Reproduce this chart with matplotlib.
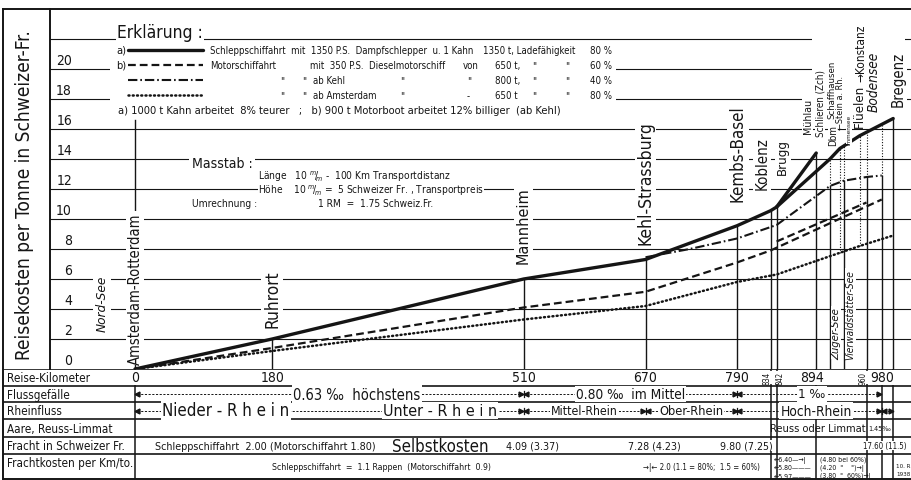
import matplotlib
matplotlib.use("Agg")
import numpy as np
import matplotlib.pyplot as plt
from matplotlib import font_manager as fm
from matplotlib.patches import Rectangle

# the drawing uses condensed lettering: take a narrow sans if one is installed
fonts = fm.fontManager.ttflist
narrow = {'condensed', 'semi-condensed', 'extra-condensed', 'ultra-condensed'}
family, stretch = 'Liberation Sans', 'normal'
for fam in ['Liberation Sans Narrow', 'DejaVu Sans', 'Noto Sans', 'Roboto', 'Open Sans', 'Lato',
            'Noto Sans Condensed', 'Roboto Condensed', 'Open Sans Condensed', 'Noto Sans SemiCondensed']:
    hits = [f for f in fonts if f.name == fam and f.style == 'normal']
    if not hits:
        continue
    if fam.endswith(('Narrow', 'Condensed')):
        family, stretch = fam, 'normal'
        break
    cond = [f for f in hits if str(f.stretch) in narrow]
    if cond:
        family, stretch = fam, str(cond[0].stretch)
        break
plt.rcParams['font.family'] = [family, 'DejaVu Sans']
plt.rcParams['font.stretch'] = stretch
plt.rcParams['mathtext.fontset'] = 'dejavusans'

INK = '#151515'
W, H, DPI = 912, 481, 100

# the drawing: km 0 at pixel column 135, about 0.762 px per km; 0 Fr. at row 370, 15 px per Fr.
PX0, PXKM = 135.0, 0.762
PY0, PYFR = 370.0, 15.0

# ---- data: Reisekosten per Tonne (Schweizer Fr.) against Reise-Kilometer ----
schlepp_km = [0, 180, 510, 670, 790, 834, 842]
schlepp_fr = [0, 2.0, 6.0, 7.3, 9.55, 10.55, 10.8]
schlepp_muehlau_km = [842, 894]
schlepp_muehlau_fr = [10.8, 14.4]
schlepp_bodensee_km = [842, 912, 925, 951, 995]
schlepp_bodensee_fr = [10.8, 14.0, 14.7, 15.55, 16.7]

motor_km = [0, 180, 510, 670, 790, 834, 980]
motor_fr = [0, 1.4, 4.1, 5.15, 7.1, 7.9, 11.3]
motor_zweig_km = [842, 960]
motor_zweig_fr = [8.5, 11.1]

kehl_km = [670, 728, 790, 842, 912, 930, 960, 980]
kehl_fr = [7.45, 8.0, 8.7, 9.6, 12.2, 12.55, 12.8, 12.9]

amsterdam_km = [0, 180, 510, 670, 790, 842, 951, 995]
amsterdam_fr = [0, 1.2, 3.3, 4.2, 5.8, 6.3, 8.2, 8.9]

orte_km = [0, 180, 510, 670, 790, 834, 842]
orte = ['Amsterdam-Rotterdam', 'Ruhrort', 'Mannheim', 'Kehl-Strassburg',
        'Kembs-Basel', 'Koblenz', 'Brugg']
ziel_kehl_km = [912, 930, 960, 980]
see_km = [925, 951]

km_labels = ['0', '180', '510', '670', '790', '894', '980']
km_label_pos = [0, 180, 510, 670, 790, 888, 980]
km_small = ['834', '842', '960']
km_small_pos = [829, 847, 955]

fracht_km = [510, 670, 790, 980]
fracht_schlepp = ['4.09', '7.28', '9.80', '17.60']
fracht_motor = ['3.37', '4.23', '7.25', '11.5']

yticks = list(range(0, 22, 2))


def km(px):
    return (px - PX0) / PXKM


def fr(py):
    return (PY0 - py) / PYFR


def box(l, t, r, b):
    return [l / W, 1 - b / H, (r - l) / W, (b - t) / H]


fits = []


def fit(t, px, along='w', group=None):
    # scale the text later so that it covers px pixels like in the drawing
    fits.append((t, px, along, group if group is not None else []))
    return t


fig = plt.figure(figsize=(W / DPI, H / DPI), dpi=DPI)
fig.patch.set_facecolor('white')

frame = fig.add_axes(box(3, 10, 912, 480))
frame.set_xticks([])
frame.set_yticks([])
frame.spines['right'].set_visible(False)
for s in frame.spines.values():
    s.set_linewidth(1.4)
    s.set_color(INK)

fit(fig.text(25 / W, 1 - 195 / H, 'Reisekosten per Tonne in Schweizer-Fr.', rotation=90,
             ha='center', va='center', fontsize=13, color=INK), 330, 'h')

# ---- chart ----
ax = fig.add_axes(box(50, 10, 912, 370))
ax.set_xlim(km(50), km(912))
ax.set_ylim(0, 24)
ax.patch.set_alpha(0)
ax.set_xticks([])
ax.set_yticks([])
for side in ['top', 'right', 'bottom']:
    ax.spines[side].set_visible(False)
ax.spines['left'].set_linewidth(1.4)
ax.spines['left'].set_color(INK)

for v in range(2, 24, 2):
    ax.axhline(v, color=INK, lw=0.8, zorder=1)
for v in yticks:
    ax.text(km(72), v + 0.15, str(v), ha='right', va='bottom', fontsize=10, color=INK, zorder=5)

# blank areas of the drawing (legend, place names at the top right)
ax.add_patch(Rectangle((km(110), fr(104)), km(616) - km(110), fr(45) - fr(104),
                       fc='white', ec='none', zorder=2))
ax.add_patch(Rectangle((km(812), fr(110)), km(905) - km(812), fr(36) - fr(110),
                       fc='white', ec='none', zorder=2))

# station verticals
tops = np.interp(orte_km, schlepp_km, schlepp_fr)
tops[0] = 16.6
for k, t in zip(orte_km, tops):
    ax.plot([k, k], [0, t], color=INK, lw=1.0, zorder=3)
ax.plot([894, 894], [0, schlepp_muehlau_fr[-1]], color=INK, lw=1.0, zorder=3)
for k in ziel_kehl_km:
    t = np.interp(k, kehl_km, kehl_fr)
    ax.plot([k, k], [0, t], color=INK, lw=1.0, zorder=3)
    ax.plot([k, k], [t, np.interp(k, schlepp_bodensee_km, schlepp_bodensee_fr)],
            color=INK, lw=0.8, ls=(0, (1, 1.5)), zorder=3)
for k in see_km:
    ax.plot([k, k], [np.interp(k, amsterdam_km, amsterdam_fr),
                     np.interp(k, schlepp_bodensee_km, schlepp_bodensee_fr)],
            color=INK, lw=0.8, ls=(0, (1, 1.5)), zorder=3)
ax.plot([995, 995], [0, schlepp_bodensee_fr[-1]], color=INK, lw=1.0, zorder=3)

# cost lines
solid = dict(color=INK, lw=2.4, solid_capstyle='round', solid_joinstyle='round', zorder=4)
dashed = dict(color=INK, lw=1.6, ls=(0, (3.5, 1.8)), zorder=4)
dashdot = dict(color=INK, lw=1.5, ls=(0, (4.5, 1.4, 0.8, 1.4)), zorder=4)
dotted = dict(color=INK, lw=1.8, ls=(0, (0.4, 1.3)), dash_capstyle='round', zorder=4)

ax.plot(schlepp_km, schlepp_fr, **solid)
ax.plot(schlepp_muehlau_km, schlepp_muehlau_fr, **solid)
ax.plot(schlepp_bodensee_km, schlepp_bodensee_fr, **solid)
ax.plot(motor_km, motor_fr, **dashed)
ax.plot(motor_zweig_km, motor_zweig_fr, **dashed)
ax.plot(kehl_km, kehl_fr, **dashdot)
ax.plot(amsterdam_km, amsterdam_fr, **dotted)

# legend (Erklärung)
wbox = dict(fc='white', ec='none', pad=1.0)
fit(ax.text(km(117), fr(33), 'Erklärung :', fontsize=13, va='center', ha='left', color=INK,
            bbox=wbox, zorder=5), 86)
rows = [fr(51), fr(66), fr(81), fr(96)]
for y, st in zip(rows, [solid, dashed, dashdot, dotted]):
    ax.plot([km(128), km(203)], [y, y], **{**st, 'zorder': 5})
ax.text(km(116), rows[0], 'a)', fontsize=8, va='center', ha='left', color=INK, zorder=5)
ax.text(km(116), rows[1], 'b)', fontsize=8, va='center', ha='left', color=INK, zorder=5)
leg = [
    [(210, 'Schleppschiffahrt  mit  1350 P.S.  Dampfschlepper  u. 1 Kahn'),
     (483, '1350 t, Ladefähigkeit'), (590, '80 %')],
    [(210, 'Motorschiffahrt'), (310, 'mit  350 P.S.  Dieselmotorschiff'), (463, 'von'),
     (495, '650 t,'), (532, '"'), (565, '"'), (590, '60 %')],
    [(280, '"'), (302, '"'), (313, 'ab Kehl'), (400, '"'), (467, '"'),
     (495, '800 t,'), (532, '"'), (565, '"'), (590, '40 %')],
    [(280, '"'), (302, '"'), (313, 'ab Amsterdam'), (400, '"'), (467, '-'),
     (495, '650 t'), (532, '"'), (565, '"'), (590, '80 %')],
]
leg_texts = []
for y, row in zip(rows, leg):
    for px, s in row:
        leg_texts.append(ax.text(km(px), y, s, fontsize=8.5, va='center', ha='left', color=INK, zorder=5))
fit(leg_texts[0], 264, group=leg_texts[1:])
fit(ax.text(km(118), fr(111), 'a) 1000 t Kahn arbeitet  8% teurer   ;   b) 900 t Motorboot arbeitet 12% billiger  (ab Kehl)',
            fontsize=8, va='center', ha='left', color=INK, zorder=5), 442)

# Masstab
fit(ax.text(km(192), fr(164), 'Masstab :', fontsize=10.5, va='center', ha='left', color=INK,
            bbox=dict(fc='white', ec='none', pad=2), zorder=5), 61)
laenge = ax.text(km(258), fr(177), r'Länge   10 $^m\!/\!_m$ -  100 Km Transportdistanz', fontsize=8,
                 va='center', ha='left', color=INK, bbox=dict(fc='white', ec='none', pad=0.2), zorder=5)
hoehe = ax.text(km(258), fr(190.5), r'Höhe    10 $^m\!/\!_m$ =  5 Schweizer Fr. , Transportpreis', fontsize=8,
                va='center', ha='left', color=INK, bbox=dict(fc='white', ec='none', pad=0.2), zorder=5)
umr = ax.text(km(192), fr(204), 'Umrechnung :', fontsize=8, va='center', ha='left', color=INK, zorder=5)
rm = ax.text(km(318), fr(204), '1 RM  =  1.75 Schweiz.Fr.', fontsize=8, va='center', ha='left',
             color=INK, zorder=5)
fit(hoehe, 225, group=[laenge, umr, rm])

# place names
lab = dict(rotation=90, ha='center', va='bottom', color=INK, bbox=dict(fc='white', ec='none', pad=1.5),
           zorder=5)
name_bottom = [0.35, 2.8, 7.1, 8.3, 11.2, 12.0, 13.0]
name_x = [0, 180, 510, 670, 791, 823, 850]
name_len = [152, 58, 77, 125, 97, 53, 36]
for n, x, b, L in zip(orte, name_x, name_bottom, name_len):
    fit(ax.text(x, b, n, fontsize=14, **lab), L, 'h')
fit(ax.text(km(102), 2.5, 'Nord-See', fontsize=10, style='italic', **lab), 56, 'h')

small = [
    (883, 15.7, 'Mühlau', 8, 'normal', 35),
    (899, 15.5, 'Schlieren (Zch)', 8, 'normal', 67),
    (916, 14.9, 'Dbm', 8, 'normal', 21),
    (915, 16.7, 'Schaffhausen', 8, 'normal', 58),
    (926, 16.0, '←Stein a. Rh.', 7, 'normal', 54),
    (937, 15.0, 'Immensee', 7, 'normal', 30),
    (950, 16.1, 'Flüelen', 9, 'normal', 43),
    (952, 19.2, '→Konstanz', 7, 'normal', 58),
    (969, 17.2, 'Bodensee', 10, 'italic', 60),
    (1002, 17.5, 'Bregenz', 8, 'normal', 55),
    (920, 0.7, 'Zuger-See', 8, 'italic', 52),
    (939, 0.7, 'Vierwaldstätter-See', 8, 'italic', 90),
]
for x, b, n, s, st, L in small:
    fit(ax.text(x, b, n, fontsize=s, style=st, rotation=90, ha='center', va='bottom', color=INK,
                bbox=dict(fc='white', ec='none', pad=0.3), zorder=5), L, 'h')

# ---- table ----
tb = fig.add_axes(box(3, 370, 912, 480))
tb.set_xlim(km(3), km(912))
tb.set_ylim(480, 370)
tb.axis('off')
edges = [370, 387, 403, 420, 438, 455]
for e in edges:
    tb.axhline(e, color=INK, lw=1.2)
for k in [0, 834, 842, 894, 960, 980, 995]:
    tb.axvline(k, color=INK, lw=1.1)

row_names = ['Reise-Kilometer', 'Flussgefälle', 'Rheinfluss', 'Aare, Reuss-Limmat',
             'Fracht in Schweizer Fr.', 'Frachtkosten per Km/to.']
row_y = [378.5, 395, 411.5, 429, 446.5, 463]
row_texts = [tb.text(km(7), y, n, fontsize=10.5, va='center', ha='left', color=INK)
             for n, y in zip(row_names, row_y)]
fit(row_texts[5], 126, group=row_texts[:5])

for s, k in zip(km_labels, km_label_pos):
    tb.text(k, row_y[0], s, fontsize=10, va='center', ha='center', color=INK,
            bbox=dict(fc='white', ec='none', pad=0.5))
for s, k in zip(km_small, km_small_pos):
    tb.text(k, row_y[0], s, fontsize=5.5, rotation=90, va='center', ha='center', color=INK,
            bbox=dict(fc='white', ec='none', pad=0.2))


def pfeil(a, b, y):
    tb.plot([a, b], [y, y], color=INK, lw=0.7, ls=(0, (2.2, 1.6)))
    tb.plot([a], [y], marker='<', ms=3.5, color=INK)
    tb.plot([b], [y], marker='>', ms=3.5, color=INK)


for a, b in [(0, 510), (510, 790), (790, 980)]:
    pfeil(a + 3, b - 3, row_y[1])
for a, b in [(0, 510), (510, 670), (670, 790), (790, 980), (980, 995)]:
    pfeil(a + 3, b - 3, row_y[2])
for k in [510, 790]:
    tb.plot([k, k], [row_y[1] - 3, row_y[1] + 3], color=INK, lw=0.9)
for k in [510, 670, 790, 980]:
    tb.plot([k, k], [row_y[2] - 3, row_y[2] + 3], color=INK, lw=0.9)

tw = dict(fc='white', ec='none', pad=0.8)
fit(tb.text(km(357), row_y[1], '0.63 ‰  höchstens', fontsize=9.5, ha='center', va='center', color=INK, bbox=tw), 128)
fit(tb.text(650, row_y[1], '0.80 ‰  im Mittel', fontsize=9.5, ha='center', va='center', color=INK, bbox=tw), 110)
tb.text(km(812), row_y[1], '1 ‰', fontsize=9.5, ha='center', va='center', color=INK, bbox=tw)

fit(tb.text(km(226), row_y[2], 'Nieder - R h e i n', fontsize=11, ha='center', va='center', color=INK, bbox=tw), 127)
fit(tb.text(km(440), row_y[2], 'Unter - R h e i n', fontsize=11, ha='center', va='center', color=INK, bbox=tw), 114)
fit(tb.text(590, row_y[2], 'Mittel-Rhein', fontsize=10, ha='center', va='center', color=INK, bbox=tw), 67)
fit(tb.text(730, row_y[2], 'Ober-Rhein', fontsize=10, ha='center', va='center', color=INK, bbox=tw), 64)
fit(tb.text(km(816), row_y[2], 'Hoch-Rhein', fontsize=10.5, ha='center', va='center', color=INK, bbox=tw), 72)

fit(tb.text(km(866), row_y[3], 'Reuss oder Limmat', fontsize=10, ha='right', va='center', color=INK), 95)
fit(tb.text(km(868), row_y[3], '1.45‰', fontsize=9, ha='left', va='center', color=INK), 23)

fit(tb.text(km(155), row_y[4], 'Schleppschiffahrt  2.00 (Motorschiffahrt 1.80)', fontsize=9.5,
            ha='left', va='center', color=INK), 223)
fit(tb.text(km(392), row_y[4], 'Selbstkosten', fontsize=11, ha='left', va='center', color=INK), 96)
fracht_x = [k + 12 for k in fracht_km]
fracht_x[-1] = km(885)
fr_texts = [tb.text(k, row_y[4], f'{a} ({b})', fontsize=9.5, ha='center', va='center', color=INK,
                    bbox=dict(fc='white', ec='none', pad=0.3))
            for k, a, b in zip(fracht_x, fracht_schlepp, fracht_motor)]
fit(fr_texts[0], 53, group=fr_texts[1:3])
fit(fr_texts[3], 44)

fit(tb.text(km(381), 467, 'Schleppschiffahrt  =  1.1 Rappen  (Motorschiffahrt  0.9)', fontsize=7.5,
            ha='center', va='center', color=INK), 217)
fit(tb.text(km(643), 467, '→|← 2.0 (1.1 = 80%;  1.5 = 60%)', fontsize=7, ha='left', va='center', color=INK), 117)
small_tab = [(774, 460, '←6.40—→|'), (820, 460, '(4.80 bei 60%)'),
             (774, 468.5, '←5.80———'), (820, 468.5, '(4.20  "    ")→|'),
             (774, 477, '←5.97———'), (820, 477, '(3.80  "  60%)→|')]
for px, py, s in small_tab:
    tb.text(km(px), py, s, fontsize=5, ha='left', va='center', color=INK)
tb.text(km(896), 466, '10. R', fontsize=4.5, ha='left', va='center', color=INK)
tb.text(km(896), 474, '1938', fontsize=4.5, ha='left', va='center', color=INK)

# scale the texts to the lengths measured on the drawing
fig.canvas.draw()
rend = fig.canvas.get_renderer()
for t, px, along, group in fits:
    e = t.get_window_extent(rend)
    cur = e.width if along == 'w' else e.height
    f = px / cur
    t.set_fontsize(t.get_fontsize() * f)
    for g in group:
        g.set_fontsize(g.get_fontsize() * f)

fig.savefig('out.png', dpi=DPI, facecolor='white')
